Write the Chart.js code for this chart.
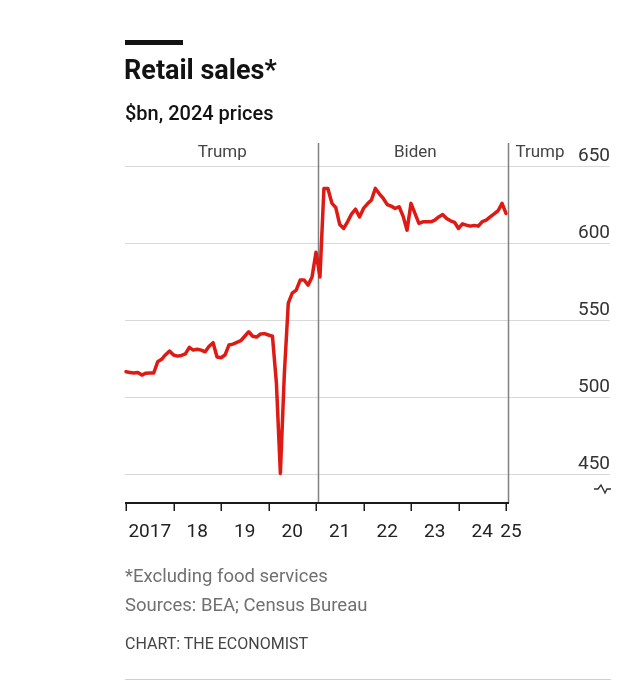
<!DOCTYPE html>
<html>
<head>
<meta charset="utf-8">
<script src="https://cdn.jsdelivr.net/npm/chart.js@4.4.1/dist/chart.umd.min.js"></script>
<style>
  html, body { margin: 0; padding: 0; background: #fff; }
  #wrap { position: relative; width: 640px; height: 684px; overflow: hidden; font-family: Roboto, "Noto Sans", sans-serif; }
  #c { position: absolute; left: 0; top: 0; }
  .t { position: absolute; white-space: nowrap; line-height: 1; }
  #bar { position: absolute; left: 125px; top: 40px; width: 58px; height: 5px; background: #121212; }
  #title { left: 124px; top: 57px; font-size: 27px; font-weight: 700; color: #121212; }
  #sub { left: 125px; top: 103px; font-size: 20px; font-weight: 500; color: #121212; }
  #note { left: 125px; top: 567px; font-size: 18.5px; color: #707070; }
  #src { left: 125px; top: 596px; font-size: 18.5px; color: #707070; }
  #credit { left: 125px; top: 636px; font-size: 16px; color: #444; }
  #rule { position: absolute; left: 125px; top: 679px; width: 486px; height: 1px; background: #d0d0d0; }
</style>
</head>
<body>
<div id="wrap">
  <canvas id="c" width="640" height="684"></canvas>
  <div id="bar"></div>
  <div class="t" id="title">Retail sales*</div>
  <div class="t" id="sub">$bn, 2024 prices</div>
  <div class="t" id="note">*Excluding food services</div>
  <div class="t" id="src">Sources: BEA; Census Bureau</div>
  <div class="t" id="credit">CHART: THE ECONOMIST</div>
  <div id="rule"></div>
</div>
<script>
// ---- data (monthly, $bn at 2024 prices), Jan 2017 .. Jan 2025 ----
const startYear = 2017;
const sales2017 = [516.4, 516.0, 515.6, 516.0, 514.3, 515.5, 515.6, 515.6, 522.9, 524.5, 527.5, 529.9];
const sales2018 = [527.3, 526.6, 527.0, 528.0, 532.3, 530.5, 531.0, 530.5, 529.4, 533.0, 535.3, 526.0];
const sales2019 = [525.5, 527.3, 533.8, 534.4, 535.5, 536.6, 539.5, 542.4, 539.5, 539.0, 541.0, 541.2];
const sales2020 = [540.3, 539.5, 509.0, 450.4, 515.0, 561.0, 567.5, 569.5, 576.0, 576.0, 572.7, 578.0];
const sales2021 = [594.0, 578.0, 635.5, 635.5, 626.0, 623.0, 612.0, 609.5, 614.0, 619.0, 622.0, 617.0];
const sales2022 = [622.5, 625.5, 628.0, 635.5, 632.0, 629.0, 625.0, 624.0, 622.5, 623.6, 617.5, 608.4];
const sales2023 = [625.8, 619.3, 612.8, 613.8, 613.8, 613.8, 614.9, 617.0, 618.5, 616.0, 614.5, 613.5];
const sales2024 = [609.5, 612.5, 611.7, 611.0, 611.5, 611.0, 614.0, 614.9, 617.0, 619.0, 621.0, 625.8];
const sales2025 = [619.3];

const yTicks = [450, 500, 550, 600, 650];
const xYears = [2017, 2018, 2019, 2020, 2021, 2022, 2023, 2024, 2025];
const xTickLabels = ["2017", "18", "19", "20", "21", "22", "23", "24", "25"];
const termStarts = [2021.05, 2025.05];          // inaugurations
const termLabels = ["Trump", "Biden", "Trump"];

const allSales = [].concat(sales2017, sales2018, sales2019, sales2020, sales2021, sales2022, sales2023, sales2024, sales2025);
const points = allSales.map((v, i) => ({ x: startYear + i / 12, y: v }));

const RED = "#df1a14";
const FONT = 'Roboto, "Noto Sans", sans-serif';

const econPlugin = {
  id: "econ",
  beforeDatasetsDraw(chart) {
    const { ctx, chartArea: a, scales: { x, y } } = chart;
    ctx.save();
    // horizontal gridlines + right-hand labels
    ctx.font = "19px " + FONT;
    ctx.textAlign = "right";
    ctx.textBaseline = "alphabetic";
    yTicks.forEach(t => {
      const py = Math.round(y.getPixelForValue(t)) + 0.5;
      ctx.strokeStyle = "#d9d9d9";
      ctx.lineWidth = 1;
      ctx.beginPath();
      ctx.moveTo(a.left - 1, py);
      ctx.lineTo(610, py);
      ctx.stroke();
      ctx.fillStyle = "#333";
      ctx.fillText(String(t), 610, py - 6);
    });
    // term dividers
    ctx.strokeStyle = "#808080";
    ctx.lineWidth = 1.5;
    termStarts.forEach(ts => {
      const px = Math.round(x.getPixelForValue(ts)) + 0.5;
      ctx.beginPath();
      ctx.moveTo(px, a.top);
      ctx.lineTo(px, a.bottom);
      ctx.stroke();
    });
    // term labels
    const b1 = x.getPixelForValue(termStarts[0]);
    const b2 = x.getPixelForValue(termStarts[1]);
    ctx.font = "17px " + FONT;
    ctx.fillStyle = "#444";
    ctx.textAlign = "center";
    ctx.fillText(termLabels[0], (a.left + b1) / 2, 157);
    ctx.fillText(termLabels[1], (b1 + b2) / 2 + 2, 157);
    ctx.textAlign = "left";
    ctx.fillText(termLabels[2], b2 + 7, 157);
    ctx.restore();
  },
  afterDatasetsDraw(chart) {
    const { ctx, chartArea: a, scales: { x } } = chart;
    ctx.save();
    const base = a.bottom;
    // x axis line
    ctx.strokeStyle = "#1a1a1a";
    ctx.lineWidth = 2;
    ctx.beginPath();
    ctx.moveTo(x.getPixelForValue(xYears[0]) - 1, base);
    ctx.lineTo(x.getPixelForValue(xYears[xYears.length - 1]) + 3, base);
    ctx.stroke();
    // ticks
    ctx.lineWidth = 1.5;
    xYears.forEach(yr => {
      const px = Math.round(x.getPixelForValue(yr)) + 0.25;
      ctx.beginPath();
      ctx.moveTo(px, base);
      ctx.lineTo(px, base + 8);
      ctx.stroke();
    });
    // year labels centred in each year (last one at its tick)
    ctx.font = "19px " + FONT;
    ctx.fillStyle = "#222";
    ctx.textAlign = "center";
    ctx.textBaseline = "alphabetic";
    xYears.forEach((yr, i) => {
      const last = i === xYears.length - 1;
      const px = last ? x.getPixelForValue(yr) + 5 : x.getPixelForValue(yr + 0.5);
      ctx.fillText(xTickLabels[i], px, 537);
    });
    // axis-break symbol
    ctx.strokeStyle = "#333";
    ctx.lineWidth = 1.4;
    ctx.beginPath();
    ctx.moveTo(594, 489);
    ctx.lineTo(598, 489);
    ctx.lineTo(601, 485);
    ctx.lineTo(605, 493);
    ctx.lineTo(607, 489);
    ctx.lineTo(611, 489);
    ctx.stroke();
    ctx.restore();
  }
};

new Chart(document.getElementById("c"), {
  type: "line",
  data: {
    datasets: [{
      data: points,
      borderColor: RED,
      borderWidth: 3.5,
      pointRadius: 0,
      tension: 0,
      fill: false,
      clip: false,
      borderJoinStyle: "round",
      borderCapStyle: "round"
    }]
  },
  options: {
    responsive: false,
    animation: false,
    events: [],
    layout: { padding: { left: 126, right: 129.25, top: 143, bottom: 181 } },
    plugins: { legend: { display: false }, tooltip: { enabled: false }, title: { display: false } },
    scales: {
      x: { type: "linear", min: 2017, max: 2025.1, display: false },
      y: { type: "linear", min: 431.2, max: 665, display: false }
    }
  },
  plugins: [econPlugin]
});
</script>
</body>
</html>
